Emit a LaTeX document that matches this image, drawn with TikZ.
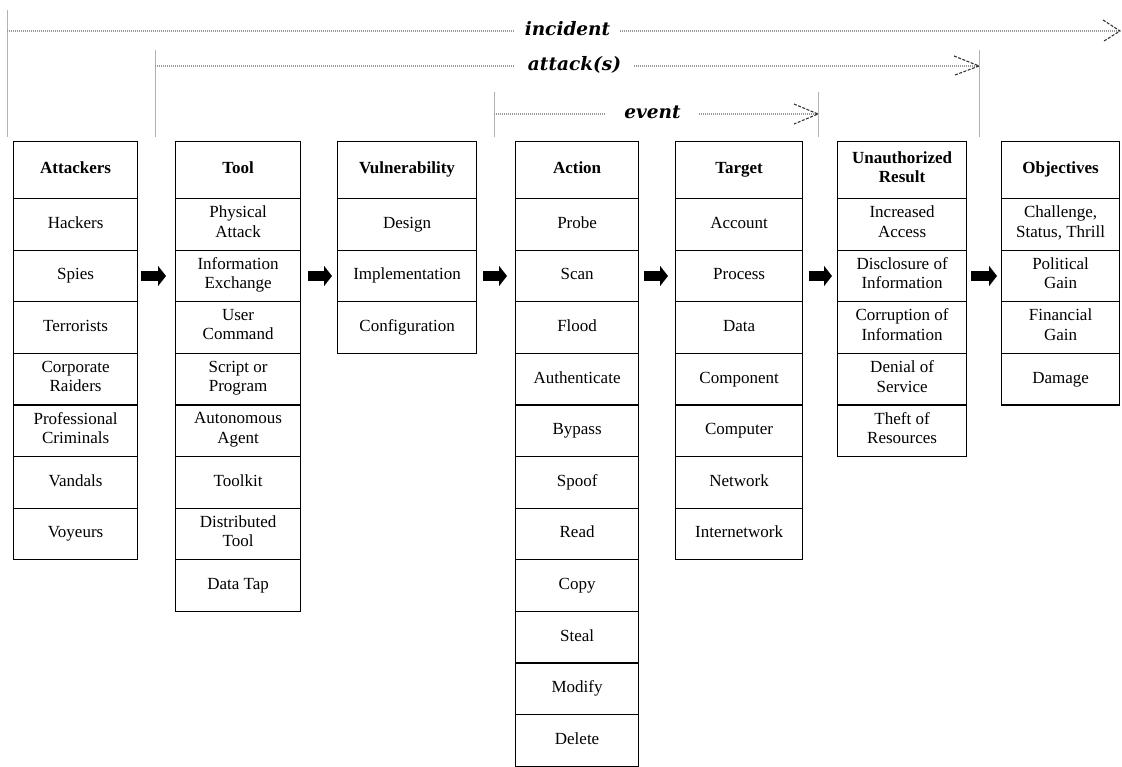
\documentclass[tikz,border=0pt]{standalone}
\usepackage{fontspec}
\setmainfont{Liberation Serif}
\newfontfamily\ttlfont{DejaVu Serif}
\usetikzlibrary{arrows.meta}
\tikzset{
  cell/.style={draw=black, line width=1.2pt, minimum height=51.6pt, align=center,
    inner sep=1pt, font=\fontsize{17}{19.5}\selectfont, anchor=north west,
    execute at begin node=\strut, execute at end node=\strut},
  head/.style={cell, minimum height=57pt, font=\fontsize{17}{19.5}\selectfont\bfseries},
  blk/.style={line width=10pt, black, -{Triangle[length=8pt,width=20pt]}},
  dotline/.style={gray!80, line width=1.2pt, dash pattern=on 1pt off 1pt},
  barb/.style={gray!40!black, line width=1.1pt, dash pattern=on 3pt off 1.5pt},
  vline/.style={gray!60, line width=0.8pt},
  ttl/.style={font=\ttlfont\fontsize{18.5}{22}\selectfont\bfseries\itshape, anchor=base, inner ysep=2pt}
}
\newcommand\mkcol[5]{%
  \node[head, minimum width=#3] (#1h) at (#2,141) {#4};
  \foreach \t [count=\i] in {#5} {
    \node[cell, minimum width=#3] (#1\i) at (#2,{198+51.6*(\i-1)}) {\t};
  }
}
\begin{document}
\begin{tikzpicture}[x=1pt,y=-1pt]
\useasboundingbox (0,0) rectangle (1122,767);

% columns
\mkcol{A}{13}{124pt}{Attackers}{Hackers,Spies,Terrorists,{Corporate\\Raiders},{Professional\\Criminals},Vandals,Voyeurs}
\mkcol{T}{175}{125pt}{Tool}{{Physical\\Attack},{Information\\Exchange},{User\\Command},{Script or\\Program},{Autonomous\\Agent},Toolkit,{Distributed\\Tool},Data Tap}
\mkcol{V}{337}{139pt}{Vulnerability}{Design,Implementation,Configuration}
\mkcol{C}{515}{123pt}{Action}{Probe,Scan,Flood,Authenticate,Bypass,Spoof,Read,Copy,Steal,Modify,Delete}
\mkcol{G}{675}{127pt}{Target}{Account,Process,Data,Component,Computer,Network,Internetwork}
\mkcol{U}{837}{129pt}{Unauthorized\\Result}{{Increased\\Access},{Disclosure of\\Information},{Corruption of\\Information},{Denial of\\Service},{Theft of\\Resources}}
\mkcol{O}{1001}{118pt}{Objectives}{{Challenge,\\Status, Thrill},{Political\\Gain},{Financial\\Gain},Damage}

% block arrows between columns
\draw[blk] ([xshift=3pt]A2.east) -- ([xshift=-9pt]T2.west);
\draw[blk] ([xshift=7pt]T2.east) -- ([xshift=-5pt]V2.west);
\draw[blk] ([xshift=6pt]V2.east) -- ([xshift=-8pt]C2.west);
\draw[blk] ([xshift=5pt]C2.east) -- ([xshift=-7pt]G2.west);
\draw[blk] ([xshift=6pt]G2.east) -- ([xshift=-5pt]U2.west);
\draw[blk] ([xshift=4pt]U2.east) -- ([xshift=-4pt]O2.west);

% incident
\coordinate (iT) at (7,10);
\coordinate (iB) at (7,137);
\coordinate (iL) at (7,31);
\coordinate (iR) at (1120,31);
\draw[vline] (iT) -- (iB);
\node[ttl, inner xsep=10pt] (inc) at (567.5,36) {incident};
\draw[dotline] (iL) -- (inc.west |- iL);
\draw[dotline] (inc.east |- iL) -- (iR);
\draw[barb] (1103,20) -- (iR) -- (1104,41);

% attack(s)
\coordinate (aLT) at (155,50);
\coordinate (aLB) at (155,137);
\coordinate (aRT) at (979,50);
\coordinate (aRB) at (979,137);
\coordinate (aL) at (155,66);
\coordinate (aR) at (979,66);
\draw[vline] (aLT) -- (aLB);
\draw[vline] (aRT) -- (aRB);
\node[ttl, inner xsep=13pt] (att) at (574.5,71) {attack(s)};
\draw[dotline] (aL) -- (att.west |- aL);
\draw[dotline] (att.east |- aL) -- (aR);
\draw[barb] (954,56) -- (aR) -- (955,75);

% event
\coordinate (eLT) at (494,92);
\coordinate (eLB) at (494,137);
\coordinate (eRT) at (818,92);
\coordinate (eRB) at (818,137);
\coordinate (eL) at (494,114);
\coordinate (eR) at (818,114);
\draw[vline] (eLT) -- (eLB);
\draw[vline] (eRT) -- (eRB);
\node[ttl, inner xsep=18.5pt] (evt) at (652.5,119) {event};
\draw[dotline] (eL) -- (evt.west |- eL);
\draw[dotline] (evt.east |- eL) -- (eR);
\draw[barb] (794,104) -- (eR) -- (794,124);
\end{tikzpicture}
\end{document}
